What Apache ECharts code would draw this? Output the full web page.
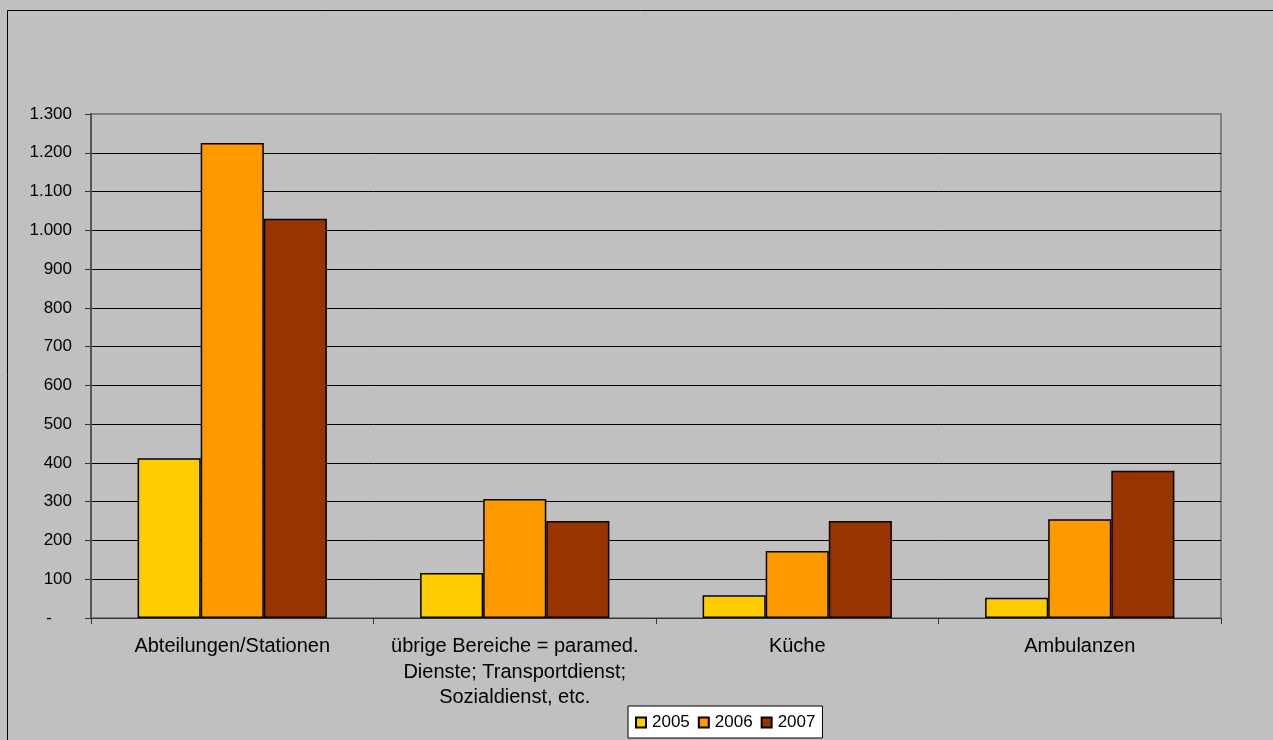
<!DOCTYPE html>
<html><head><meta charset="utf-8">
<script src="https://cdn.jsdelivr.net/npm/echarts@6/dist/echarts.min.js"></script>
<style>html,body{margin:0;padding:0;background:#fff;}#c{width:1273px;height:740px;}</style>
</head><body><div id="c"></div>
<script>
const categories = ["Abteilungen/Stationen", "übrige Bereiche = paramed.\nDienste; Transportdienst;\nSozialdienst, etc.", "Küche", "Ambulanzen"];
const seriesNames = ["2005", "2006", "2007"];
const v2005 = [412, 116, 59, 52];
const v2006 = [1225, 307, 173, 255];
const v2007 = [1030, 250, 250, 380];
const colors = ["#FFCC00", "#FF9900", "#993300"];
const values = [v2005, v2006, v2007];

const chart = echarts.init(document.getElementById('c'));
const font = "'Liberation Sans', Arial, sans-serif";
chart.setOption({
  backgroundColor: '#C0C0C0',
  animation: false,
  textStyle: {fontFamily: font},
  graphic: [{
    type: 'rect', silent: true, z: 100,
    shape: {x: 7.5, y: 10.5, width: 1300, height: 800},
    style: {fill: 'none', stroke: '#000', lineWidth: 1}
  }],
  grid: {left: 91, right: 52, top: 114, bottom: 122, show: true, borderColor: '#808080', borderWidth: 2, backgroundColor: 'transparent'},
  legend: {
    left: 628, top: 706, orient: 'horizontal',
    backgroundColor: '#fff', borderColor: '#000', borderWidth: 1,
    padding: [8, 7, 7, 7], itemGap: 8, itemWidth: 10, itemHeight: 10, icon: 'rect',
    textStyle: {fontSize: 17, color: '#000', fontFamily: font, padding: [0, 0, 0, 1]},
    data: seriesNames
  },
  xAxis: {
    type: 'category', data: categories,
    axisLine: {lineStyle: {color: '#333', width: 1}},
    axisTick: {show: true, length: 6, lineStyle: {color: '#333'}},
    axisLabel: {fontSize: 20, color: '#000', lineHeight: 25.5, margin: 16, interval: 0, fontFamily: font}
  },
  yAxis: {
    type: 'value', min: 0, max: 1300, interval: 100,
    axisLine: {show: true, lineStyle: {color: '#555', width: 2}},
    axisTick: {show: true, length: 6, lineStyle: {color: '#333'}},
    splitLine: {show: true, showMaxLine: false, lineStyle: {color: '#000', width: 1}},
    axisLabel: {fontSize: 17, color: '#000', margin: 19, fontFamily: font,
      rich: {d: {fontSize: 17, color: '#000', fontFamily: font, padding: [0, 20, 0, 0]}},
      formatter: v => v === 0 ? '{d|-}' : v.toLocaleString('de-DE')}
  },
  series: seriesNames.map((n, i) => ({
    name: n, type: 'bar', data: values[i],
    barGap: '0%', barCategoryGap: '33%',
    itemStyle: {color: colors[i], borderColor: '#000', borderWidth: 1.5}
  }))
});
</script></body></html>
